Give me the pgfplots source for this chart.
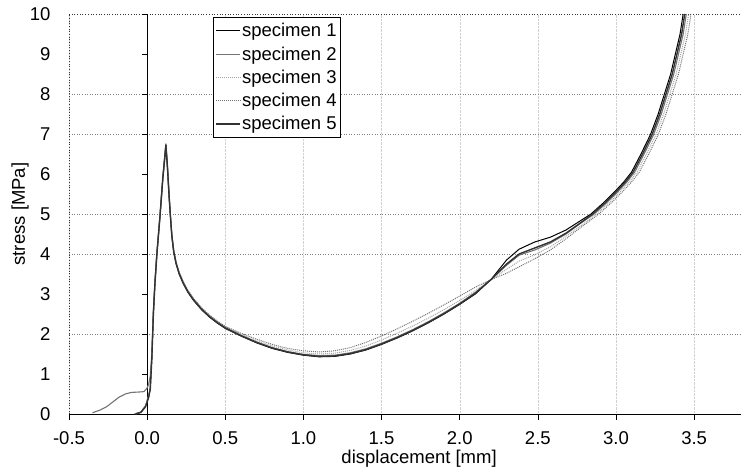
\documentclass[border=0pt]{standalone}
\usepackage{fontspec}
\setmainfont{Liberation Sans}
\usepackage{pgfplots}
\pgfplotsset{compat=1.18}
\newcommand\f{\fontsize{18.5bp}{22bp}\selectfont}
\begin{document}
\begin{tikzpicture}
\begin{axis}[
  scale only axis, width=672bp, height=400bp,
  xmin=-0.5, xmax=3.8, ymin=0, ymax=10,
  clip=false,
  axis line style={draw=none},
  xtick={-0.5,0,0.5,1,1.5,2,2.5,3,3.5},
  xticklabels={-0.5,0.0,0.5,1.0,1.5,2.0,2.5,3.0,3.5},
  ytick={0,1,2,3,4,5,6,7,8,9,10},
  yticklabels={0,1,2,3,4,5,6,7,8,9,10},
  xtick pos=bottom, ytick pos=left,
  tick align=outside,
  major tick length=6bp,
  x tick style={black, line width=0.6pt},
  y tick style={draw=none},
  xmajorgrids=true,
  major x grid style={densely dotted, black!18},
  tick label style={font=\f},
  xticklabel style={yshift=-8bp},
  yticklabel style={xshift=-9bp},
  xlabel={displacement [mm]},
  ylabel={stress [MPa]},
  every axis x label/.style={at={(axis description cs:0.521,0)}, anchor=base, yshift=-49bp, font=\f},
  every axis y label/.style={at={(axis description cs:-0.0655,0.5)}, rotate=90, anchor=base, font=\f},
  legend cell align=left,
  legend style={at={(axis description cs:0.214,0.9925)}, anchor=north west, font=\f,
    draw=black, line width=0.6pt, inner xsep=2bp, inner ysep=4.5bp, row sep=5.4bp,
    nodes={inner sep=1.5bp}},
  legend image code/.code={\draw[#1] (0bp,0bp) -- (24bp,0bp);},
]
% horizontal dotted grid lines (as they appear in the source)
\pgfplotsinvokeforeach{2,4,5,7,8}{\draw[dotted, black!50, line width=0.6pt] (axis cs:-0.5,#1) -- (axis cs:3.8,#1);}
\draw[dotted, black!80, line width=0.7pt] (axis cs:-0.5,10) -- (axis cs:3.8,10);
\draw[dotted, black!80, line width=0.7pt] (axis cs:-0.5,0) -- (axis cs:-0.5,10);
\draw[black, line width=0.7pt] (axis cs:-0.5,0) -- (axis cs:3.8,0);
\draw[black, line width=0.8pt] (axis cs:0,0) -- (axis cs:0,10);
\pgfplotsinvokeforeach{1,2,3,4,5,6,7,8,9,10}{\draw[black, line width=0.6pt] (axis cs:0,#1) -- (axis cs:-0.035,#1);}

% specimen 1
\addplot[black, line width=1pt] coordinates {
(-0.08,0) (-0.04,0.05) (-0.01,0.2) (0.01,0.45) (0.02,0.65) (0.03,1.4) (0.04,2.55) (0.05,3.3) (0.062,4.0) (0.083,5.0) (0.1,5.9) (0.12,6.76) (0.13,6.2) (0.14,5.5) (0.148,5.0) (0.158,4.45) (0.17,4.05) (0.185,3.76) (0.205,3.5) (0.23,3.27) (0.26,3.05) (0.295,2.85) (0.35,2.6) (0.4,2.42) (0.45,2.27) (0.5,2.14) (0.6,1.95) (0.7,1.78) (0.8,1.64) (0.9,1.54) (1.0,1.47) (1.1,1.43) (1.2,1.44) (1.3,1.5) (1.4,1.6) (1.5,1.74) (1.6,1.9) (1.7,2.08) (1.8,2.28) (1.9,2.5) (2.0,2.74) (2.1,3.0) (2.2,3.36) (2.3,3.85) (2.38,4.12) (2.48,4.3) (2.58,4.42) (2.68,4.6) (2.76,4.8) (2.84,5.0) (2.92,5.28) (2.99,5.55) (3.05,5.8) (3.1,6.05) (3.16,6.5) (3.22,6.98) (3.27,7.5) (3.31,8.0) (3.35,8.5) (3.38,9.0) (3.41,9.5) (3.43,10)
};
\addlegendentry{specimen 1}
% specimen 2
\addplot[black!55, line width=1.1pt] coordinates {
(-0.35,0.03) (-0.3,0.1) (-0.26,0.18) (-0.22,0.3) (-0.18,0.42) (-0.14,0.5) (-0.1,0.54) (-0.05,0.55) (-0.02,0.56) (0,0.65) (0.01,0.75) (0.02,0.95) (0.03,1.5) (0.04,2.5) (0.05,3.25) (0.062,3.98) (0.083,4.98) (0.1,5.85) (0.12,6.7) (0.13,6.15) (0.14,5.48) (0.148,5.0) (0.158,4.47) (0.17,4.07) (0.185,3.78) (0.205,3.52) (0.23,3.29) (0.26,3.07) (0.295,2.87) (0.35,2.62) (0.4,2.44) (0.45,2.29) (0.5,2.16) (0.6,1.97) (0.7,1.8) (0.8,1.66) (0.9,1.56) (1.0,1.49) (1.1,1.46) (1.2,1.47) (1.3,1.53) (1.4,1.63) (1.5,1.77) (1.6,1.93) (1.7,2.11) (1.8,2.31) (1.9,2.53) (2.0,2.77) (2.1,3.04) (2.2,3.36) (2.3,3.72) (2.38,3.97) (2.48,4.1) (2.58,4.27) (2.68,4.5) (2.77,4.76) (2.86,5.0) (2.94,5.28) (3.01,5.55) (3.07,5.8) (3.12,6.05) (3.18,6.5) (3.24,6.98) (3.29,7.5) (3.33,8.0) (3.37,8.5) (3.4,9.0) (3.43,9.5) (3.45,10)
};
\addlegendentry{specimen 2}
% specimen 3
\addplot[black!35, line width=1pt, densely dotted] coordinates {
(-0.08,0) (-0.04,0.05) (-0.01,0.22) (0.01,0.5) (0.02,0.7) (0.03,1.45) (0.04,2.6) (0.05,3.32) (0.062,4.02) (0.083,5.02) (0.1,5.9) (0.12,6.7) (0.13,6.15) (0.14,5.47) (0.148,5.0) (0.158,4.49) (0.17,4.09) (0.185,3.8) (0.205,3.54) (0.23,3.31) (0.26,3.09) (0.295,2.89) (0.35,2.64) (0.4,2.46) (0.45,2.31) (0.5,2.18) (0.6,1.99) (0.7,1.83) (0.8,1.7) (0.9,1.6) (1.0,1.53) (1.1,1.5) (1.2,1.52) (1.3,1.59) (1.4,1.7) (1.5,1.85) (1.6,2.02) (1.7,2.2) (1.8,2.4) (1.9,2.61) (2.0,2.84) (2.1,3.08) (2.2,3.36) (2.3,3.62) (2.38,3.82) (2.48,3.98) (2.58,4.18) (2.68,4.44) (2.78,4.72) (2.875,5.0) (2.955,5.28) (3.025,5.55) (3.085,5.8) (3.135,6.05) (3.195,6.5) (3.255,6.98) (3.305,7.5) (3.345,8.0) (3.385,8.5) (3.415,9.0) (3.445,9.5) (3.465,10)
};
\addlegendentry{specimen 3}
% specimen 4
\addplot[black!55, line width=1pt, densely dotted] coordinates {
(-0.07,0) (-0.04,0.05) (-0.01,0.2) (0.01,0.45) (0.02,0.66) (0.03,1.42) (0.04,2.55) (0.05,3.28) (0.062,3.98) (0.083,4.98) (0.1,5.86) (0.12,6.68) (0.13,6.12) (0.14,5.45) (0.148,5.0) (0.158,4.5) (0.17,4.1) (0.185,3.81) (0.205,3.55) (0.23,3.32) (0.26,3.1) (0.295,2.9) (0.35,2.65) (0.4,2.47) (0.45,2.32) (0.5,2.19) (0.6,2.02) (0.7,1.87) (0.8,1.74) (0.9,1.64) (1.0,1.58) (1.1,1.55) (1.2,1.58) (1.3,1.66) (1.4,1.79) (1.5,1.95) (1.6,2.13) (1.7,2.32) (1.8,2.52) (1.9,2.73) (2.0,2.95) (2.1,3.17) (2.2,3.36) (2.3,3.52) (2.38,3.68) (2.48,3.88) (2.58,4.1) (2.68,4.38) (2.78,4.68) (2.89,5.0) (2.97,5.28) (3.04,5.55) (3.1,5.8) (3.15,6.05) (3.21,6.5) (3.27,6.98) (3.32,7.5) (3.36,8.0) (3.4,8.5) (3.43,9.0) (3.46,9.5) (3.48,10)
};
\addlegendentry{specimen 4}
% specimen 5
\addplot[black!80, line width=1.4pt] coordinates {
(-0.07,0) (-0.04,0.04) (-0.01,0.18) (0.01,0.42) (0.02,0.62) (0.03,1.38) (0.04,2.52) (0.05,3.27) (0.062,3.98) (0.083,4.98) (0.1,5.88) (0.12,6.72) (0.13,6.17) (0.14,5.48) (0.148,5.0) (0.158,4.46) (0.17,4.06) (0.185,3.77) (0.205,3.51) (0.23,3.28) (0.26,3.06) (0.295,2.86) (0.35,2.61) (0.4,2.43) (0.45,2.28) (0.5,2.15) (0.6,1.96) (0.7,1.79) (0.8,1.65) (0.9,1.55) (1.0,1.48) (1.1,1.44) (1.2,1.45) (1.3,1.51) (1.4,1.61) (1.5,1.75) (1.6,1.91) (1.7,2.09) (1.8,2.29) (1.9,2.51) (2.0,2.75) (2.1,3.02) (2.2,3.36) (2.3,3.75) (2.38,4.0) (2.48,4.15) (2.58,4.3) (2.68,4.52) (2.77,4.77) (2.85,5.0) (2.93,5.28) (3.0,5.55) (3.06,5.8) (3.11,6.05) (3.17,6.5) (3.23,6.98) (3.28,7.5) (3.32,8.0) (3.36,8.5) (3.39,9.0) (3.42,9.5) (3.44,10)
};
\addlegendentry{specimen 5}
\end{axis}
\pgfresetboundingbox
\path ([xshift=-69bp,yshift=-59bp]current axis.south west) rectangle ([yshift=14bp]current axis.north east);
\end{tikzpicture}
\end{document}
